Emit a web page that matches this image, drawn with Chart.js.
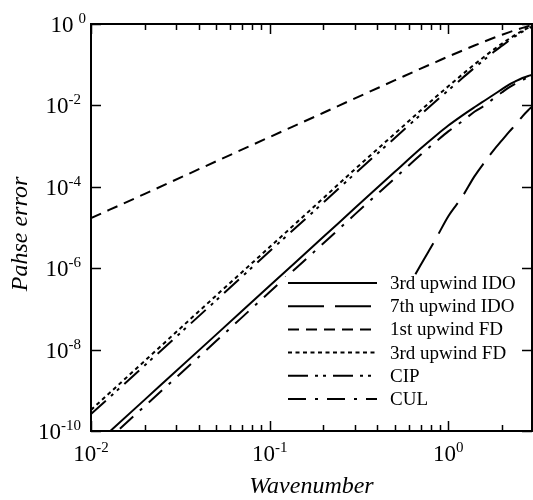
<!DOCTYPE html>
<html>
<head>
<meta charset="utf-8">
<script src="https://cdn.jsdelivr.net/npm/chart.js@4.4.1/dist/chart.umd.min.js"></script>
<style>
html, body { margin: 0; padding: 0; background: #fff; }
</style>
</head>
<body>
<canvas id="grafico" width="533" height="500"></canvas>
<script>
// Número de onda (eje x) y error de fase de cada esquema
var wavenumbers = [0.01, 0.02, 0.05, 0.1, 0.2, 0.3, 0.5, 0.7, 0.85, 1.0, 1.2, 1.4, 1.6, 1.8, 2.0, 2.2, 2.4, 2.6, 2.8, 2.94];

var ido3 = [3.7e-11, 5.9e-10, 2.3e-8, 3.7e-7, 5.9e-6, 3.0e-5, 2.3e-4, 8.7e-4, 1.8e-3, 3.2e-3, 5.7e-3, 9.0e-3, 1.32e-2, 1.85e-2, 2.5e-2, 3.3e-2, 4.0e-2, 4.7e-2, 5.3e-2, 5.6e-2];
var ido7 = [null, null, null, null, 6.6e-11, 1.5e-9, 8.5e-8, 1.2e-6, 5.2e-6, 1.9e-5, 5.8e-5, 1.8e-4, 4.1e-4, 8.1e-4, 1.4e-3, 2.3e-3, 3.5e-3, 5.4e-3, 7.6e-3, 9.3e-3];
var fd1 = [1.7e-5, 6.7e-5, 4.2e-4, 1.67e-3, 6.6e-3, 1.49e-2, 4.1e-2, 8.0e-2, 0.116, 0.159, 0.223, 0.296, 0.375, 0.459, 0.545, 0.632, 0.719, 0.802, 0.880, 0.932];
var fd3 = [3.3e-10, 5.3e-9, 2.1e-7, 3.3e-6, 5.3e-5, 2.7e-4, 2.0e-3, 7.5e-3, 1.6e-2, 2.95e-2, 5.8e-2, 0.101, 0.161, 0.238, 0.331, 0.438, 0.556, 0.679, 0.803, 0.887];
var cip = [2.6e-10, 4.1e-9, 1.6e-7, 2.6e-6, 4.1e-5, 2.1e-4, 1.56e-3, 5.9e-3, 1.26e-2, 2.36e-2, 4.7e-2, 8.4e-2, 0.136, 0.207, 0.293, 0.399, 0.517, 0.645, 0.775, 0.86];
var cul = [2.6e-11, 4.1e-10, 1.6e-8, 2.6e-7, 4.1e-6, 2.1e-5, 1.6e-4, 6.1e-4, 1.27e-3, 2.3e-3, 4.1e-3, 7.0e-3, 1.0e-2, 1.5e-2, 2.1e-2, 2.8e-2, 3.5e-2, 4.2e-2, 4.9e-2, 5.4e-2];

var nombres = ['3rd upwind IDO', '7th upwind IDO', '1st upwind FD', '3rd upwind FD', 'CIP', 'CUL'];

// Marcas de los ejes (exponentes de 10)
var xTickExps = [-2, -1, 0];
var yTickExps = [0, -2, -4, -6, -8, -10];

function puntos(valores) {
    return wavenumbers.map(function(k, i) { return { x: k, y: valores[i] }; });
}

// Estilos de línea de cada curva
var trazos = [[], [36, 11], [11, 7], [4, 3.5], [20, 7, 3, 5, 3, 7], [18, 9, 3, 9]];
var series = [ido3, ido7, fd1, fd3, cip, cul];

var datasets = series.map(function(s, i) {
    return {
        label: nombres[i],
        data: puntos(s),
        borderColor: '#000',
        borderWidth: 2,
        borderDash: trazos[i],
        pointRadius: 0,
        fill: false,
        cubicInterpolationMode: 'monotone'
    };
});

function potencia(ctx, exp, x, y, align, gap) {
    var base = '10', sup = String(exp);
    ctx.font = '23px "Liberation Serif"';
    var wb = ctx.measureText(base).width;
    ctx.font = '15px "Liberation Serif"';
    var ws = ctx.measureText(sup).width;
    var total = wb + gap + ws;
    var x0 = align === 'right' ? x - total : x - total / 2;
    ctx.textAlign = 'left';
    ctx.textBaseline = 'middle';
    ctx.font = '23px "Liberation Serif"';
    ctx.fillText(base, x0, y);
    ctx.font = '15px "Liberation Serif"';
    ctx.fillText(sup, x0 + wb + gap, y - 7);
}

// Leyenda con fondo blanco dentro del área del gráfico
var leyenda = {
    id: 'leyenda',
    afterDatasetsDraw: function(chart) {
        var ctx = chart.ctx, a = chart.chartArea;
        var bx = a.left + 192, by = a.top + 253;
        ctx.save();
        ctx.fillStyle = '#fff';
        ctx.fillRect(bx, by, a.right - bx, a.bottom - by);
        chart.data.datasets.forEach(function(ds, i) {
            var y = by + 6 + i * 23.2;
            ctx.strokeStyle = '#000';
            ctx.lineWidth = 2;
            ctx.setLineDash(ds.borderDash);
            ctx.beginPath();
            ctx.moveTo(bx + 5, y);
            ctx.lineTo(bx + 94, y);
            ctx.stroke();
            ctx.setLineDash([]);
            ctx.fillStyle = '#000';
            ctx.font = '19px "Liberation Serif"';
            ctx.textAlign = 'left';
            ctx.textBaseline = 'middle';
            ctx.fillText(ds.label, bx + 107, y + 1);
        });
        ctx.restore();
    },
    afterDraw: function(chart) {
        var ctx = chart.ctx, a = chart.chartArea;
        var xs = chart.scales.x, ys = chart.scales.y;
        ctx.save();
        ctx.strokeStyle = '#000';
        ctx.fillStyle = '#000';

        // marcas del eje x (arriba y abajo, hacia dentro)
        ctx.lineWidth = 1.5;
        ctx.beginPath();
        xTickExps.forEach(function(e) {
            for (var m = 1; m <= 9; m++) {
                var v = m * Math.pow(10, e);
                if (v > xs.max) break;
                var px = Math.round(xs.getPixelForValue(v)) + 0.5;
                var len = m === 1 ? 10 : 6;
                ctx.moveTo(px, a.bottom); ctx.lineTo(px, a.bottom - len);
                ctx.moveTo(px, a.top); ctx.lineTo(px, a.top + len);
            }
        });
        // marcas del eje y (izquierda y derecha)
        yTickExps.forEach(function(e) {
            var py = Math.round(ys.getPixelForValue(Math.pow(10, e))) + 0.5;
            ctx.moveTo(a.left, py); ctx.lineTo(a.left + 10, py);
            ctx.moveTo(a.right, py); ctx.lineTo(a.right - 10, py);
        });
        ctx.stroke();

        // marco
        ctx.lineWidth = 2;
        ctx.strokeRect(a.left, a.top, a.right - a.left, a.bottom - a.top);

        // etiquetas
        xTickExps.forEach(function(e) {
            potencia(ctx, e, xs.getPixelForValue(Math.pow(10, e)), a.bottom + 24, 'center', 0);
        });
        yTickExps.forEach(function(e) {
            var gap = e === 0 ? 5 : 0;
            potencia(ctx, e, a.left - 10 + gap, ys.getPixelForValue(Math.pow(10, e)) + 2, 'right', gap);
        });

        // títulos de los ejes
        ctx.font = 'italic 24px "Liberation Serif"';
        ctx.textAlign = 'center';
        ctx.textBaseline = 'middle';
        ctx.fillText('Wavenumber', (a.left + a.right) / 2, a.bottom + 56);
        ctx.save();
        ctx.translate(21, 234);
        ctx.rotate(-Math.PI / 2);
        ctx.fillText('Pahse error', 0, 0);
        ctx.restore();
        ctx.restore();
    }
};

var ctxError = document.getElementById('grafico').getContext('2d');
var graficoError = new Chart(ctxError, {
    type: 'line',
    data: { datasets: datasets },
    options: {
        responsive: false,
        animation: false,
        layout: { padding: { left: 91, right: 1, top: 24, bottom: 69 } },
        plugins: { legend: { display: false }, tooltip: { enabled: false } },
        scales: {
            x: { type: 'logarithmic', min: 0.01, max: 2.94, display: false },
            y: { type: 'logarithmic', min: 1e-10, max: 1, display: false }
        }
    },
    plugins: [leyenda]
});
</script>
</body>
</html>
